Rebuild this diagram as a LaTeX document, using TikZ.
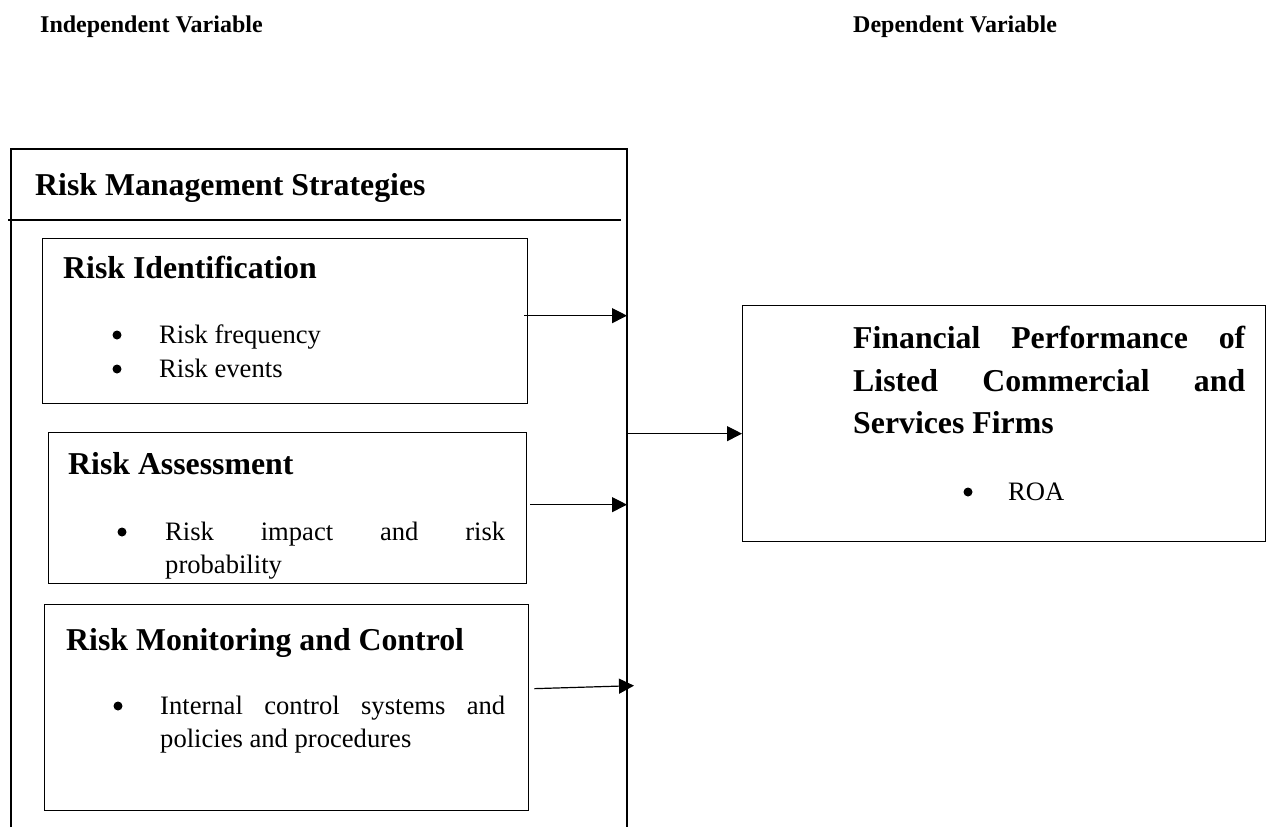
\documentclass[tikz,border=0pt]{standalone}
\usepackage{fontspec}
\setmainfont{Liberation Serif}
\usetikzlibrary{arrows.meta}
\tikzstyle{box} = [
draw=black,
line width=1.3pt,
inner sep=0pt,
anchor=north west
]
\tikzstyle{heading} = [
inner sep=0pt,
anchor=base west,
font=\fontsize{24}{28}\selectfont\bfseries
]
\tikzstyle{title} = [
inner sep=0pt,
anchor=base west,
font=\fontsize{31.8}{36}\selectfont\bfseries
]
\tikzstyle{item} = [
inner sep=0pt,
anchor=base west,
font=\fontsize{26.6}{33}\selectfont
]
\tikzstyle{dot} = [
circle,
fill=black,
inner sep=0pt,
minimum size=9pt
]
\tikzstyle{arrow} = [
-{Triangle[length=15pt,width=15pt]},
line width=1.2pt
]

\begin{document}
\begin{tikzpicture}[x=1pt,y=-1pt]
	\useasboundingbox (0,0) rectangle (1271,827);
	
	% column headings
	\node[heading] (indep) at (40,32) {Independent Variable};
	\node[heading] (dep) at (853,32) {Dependent Variable};
	
	% outer frame (open at the bottom)
	\coordinate (rim) at (627,149);
	\draw[line width=1.3pt] (11,827) -- (11,149) -- (rim) -- (627,827);
	\draw[line width=1.3pt] (8,220) -- (621,220);
	\node[title] (strat) at (35,195) {Risk Management Strategies};
	
	% risk identification
	\node[box,minimum width=485pt,minimum height=165pt] (ident) at (42,238) {};
	\node[title] (identT) at (63,278) {Risk Identification};
	\node[dot] (identD1) at (117,335) {};
	\node[item] (identI1) at (159,343) {Risk frequency};
	\node[dot] (identD2) at (117,369) {};
	\node[item] (identI2) at (159,377) {Risk events};
	
	% risk assessment
	\node[box,minimum width=478pt,minimum height=151pt] (assess) at (48,432) {};
	\node[title] (assessT) at (68,474) {Risk Assessment};
	\node[dot] (assessD1) at (122,532) {};
	\node[item] (assessI1) at (165,540) {\makebox[340pt][s]{Risk impact and risk}};
	\node[item] (assessI2) at (165,573) {probability};
	
	% risk monitoring and control
	\node[box,minimum width=484pt,minimum height=206pt] (monitor) at (44,604) {};
	\node[title] (monitorT) at (66,650) {Risk Monitoring and Control};
	\node[dot] (monitorD1) at (118,706) {};
	\node[item] (monitorI1) at (160,714) {\makebox[345pt][s]{Internal control systems and}};
	\node[item] (monitorI2) at (160,747) {policies and procedures};
	
	% financial performance
	\node[box,minimum width=523pt,minimum height=236pt] (perf) at (742,305) {};
	\node[title] (perfT1) at (853,348) {\makebox[392pt][s]{Financial Performance of}};
	\node[title] (perfT2) at (853,391) {\makebox[392pt][s]{Listed Commercial and}};
	\node[title] (perfT3) at (853,433) {Services Firms};
	\node[dot] (perfD1) at (968,492) {};
	\node[item] (perfI1) at (1008,500) {ROA};
	
	% connectors
	\draw[arrow] ([xshift=-4pt,yshift=5.5pt]ident.east) -- ([yshift=5.5pt]ident.east -| rim);
	\draw[arrow] ([yshift=-10pt]perf.west -| rim) -- ([yshift=-10pt]perf.west);
	\draw[arrow] ([xshift=3pt,yshift=3.5pt]assess.east) -- ([yshift=3.5pt]assess.east -| rim);
	\draw[arrow] ([xshift=5pt,yshift=19pt]monitor.east) -- ([xshift=7pt,yshift=22pt]monitor.east -| rim);
\end{tikzpicture}
\end{document}
